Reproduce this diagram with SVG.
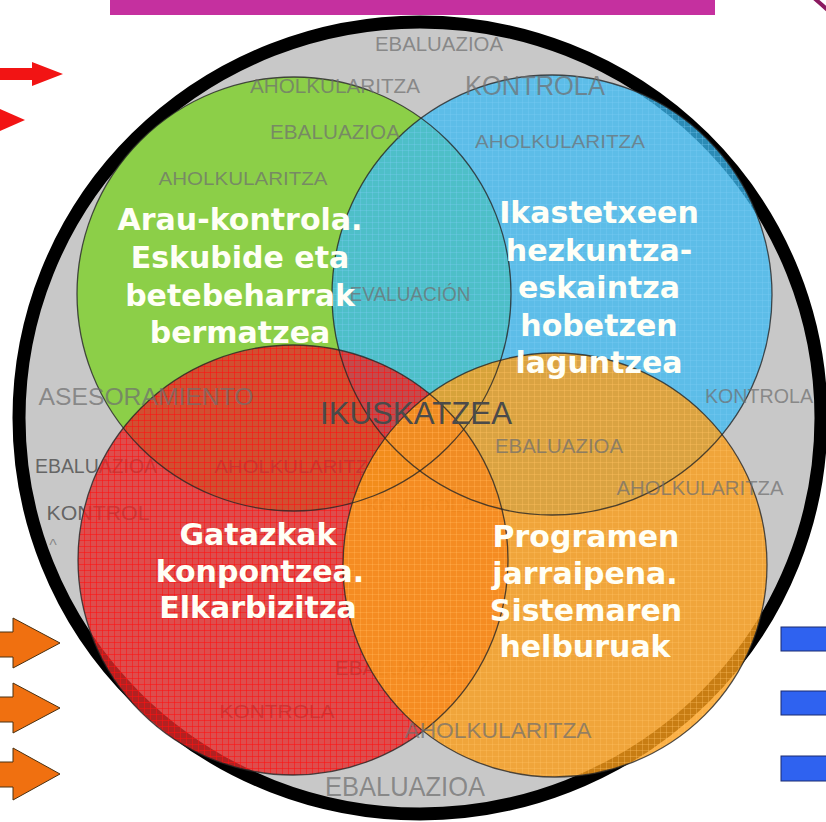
<svg xmlns="http://www.w3.org/2000/svg" width="826" height="822" viewBox="0 0 826 822">
<style>
.lb{font-family:"Liberation Sans",Arial,sans-serif;fill:#6f6f6f;fill-opacity:.72;text-anchor:middle}
.lu{font-family:"Liberation Sans",Arial,sans-serif;fill:#4a4a4a;fill-opacity:.8;text-anchor:middle}
.wt{font-family:"DejaVu Sans",Verdana,sans-serif;font-weight:bold;font-size:30px;fill:#fffff6;text-anchor:middle}
.ol{fill:none;stroke:#262626;stroke-width:1.3;stroke-opacity:.8}
.oarr{fill:#f07010;stroke:#4a3010;stroke-width:1}
.brect{fill:#2f62f0;stroke:#1a2a70;stroke-width:1}
.gp{fill:none}
</style>
<defs>
<pattern id="gridR" width="6" height="6" patternUnits="userSpaceOnUse"><path class="gp" d="M0 0.5H6M0.5 0V6" stroke="#ff1010" stroke-opacity=".55" stroke-width="1"/></pattern>
<pattern id="gridO" width="6" height="6" patternUnits="userSpaceOnUse"><path class="gp" d="M0 0.5H6M0.5 0V6" stroke="#ffc060" stroke-opacity=".35" stroke-width="1"/></pattern>
<pattern id="gridB" width="6" height="6" patternUnits="userSpaceOnUse"><path class="gp" d="M0 0.5H6M0.5 0V6" stroke="#80d0f8" stroke-opacity=".3" stroke-width="1"/></pattern>
</defs>
<rect width="826" height="822" fill="#ffffff"/>

<g id="header">
<rect x="110" y="-2" width="605" height="17" fill="#c5309f"/>
<path d="M814 -2 Q 821 4 830 12" fill="none" stroke="#8c1a60" stroke-width="4"/>
</g>

<g id="arrows-left">
<polygon points="-2,68 32,68 32,62 63,74 32,86 32,80 -2,80" fill="#f21414"/>
<polygon points="-2,108 25,120 -2,132" fill="#f21414"/>
<polygon class="oarr" points="-2,632 13,632 13,618 60,643 13,668 13,657 -2,657"/>
<polygon class="oarr" points="-2,697 13,697 13,683 60,708 13,733 13,722 -2,722"/>
<polygon class="oarr" points="-2,762 13,762 13,748 60,774 13,800 13,787 -2,787"/>
</g>

<g id="bars-right">
<rect class="brect" x="781" y="627" width="50" height="24"/>
<rect class="brect" x="781" y="691" width="50" height="24"/>
<rect class="brect" x="781" y="756" width="50" height="25"/>
</g>

<g id="ikuskatzea">
<ellipse cx="420" cy="418" rx="401" ry="396" fill="#c8c8c8" stroke="#000000" stroke-width="13"/>
</g>

<g id="green">
<circle cx="294" cy="294" r="217" fill="#8ccf48"/>
</g>
<g id="blue">
<circle cx="552" cy="295" r="220" fill="#3ab9f3" fill-opacity=".75"/>
<circle cx="552" cy="295" r="220" fill="url(#gridB)"/>
</g>

<g id="labels-under">
<text class="lu" x="96" y="473" font-size="20" textLength="122" lengthAdjust="spacingAndGlyphs">EBALUAZIOA</text>
<text class="lu" x="298" y="473" font-size="18" textLength="167" lengthAdjust="spacingAndGlyphs">AHOLKULARITZA</text>
<text class="lu" x="98" y="520" font-size="21" textLength="103" lengthAdjust="spacingAndGlyphs">KONTROL</text>
<text class="lu" x="420" y="512" font-size="19" textLength="108" lengthAdjust="spacingAndGlyphs">KONTROLA</text>
<text class="lu" x="400" y="675" font-size="20" textLength="130" lengthAdjust="spacingAndGlyphs">EBALUAZIOA</text>
<text class="lu" x="277" y="718" font-size="19" textLength="115" lengthAdjust="spacingAndGlyphs">KONTROLA</text>
</g>

<g id="red">
<circle cx="293" cy="560" r="215" fill="#e42a2a" fill-opacity=".78"/>
<circle cx="293" cy="560" r="215" fill="url(#gridR)"/>
</g>
<g id="orange">
<circle cx="555" cy="565" r="212" fill="#fa9c18" fill-opacity=".8"/>
<circle cx="555" cy="565" r="212" fill="url(#gridO)"/>
</g>

<g id="outlines">
<circle class="ol" cx="294" cy="294" r="217"/>
<circle class="ol" cx="552" cy="295" r="220"/>
<circle class="ol" cx="293" cy="560" r="215"/>
<circle class="ol" cx="555" cy="565" r="212"/>
</g>

<g id="labels">
<text class="lb" x="439" y="51" font-size="21" textLength="128" lengthAdjust="spacingAndGlyphs">EBALUAZIOA</text>
<text class="lb" x="335" y="93" font-size="21" textLength="170" lengthAdjust="spacingAndGlyphs">AHOLKULARITZA</text>
<text class="lb" x="535" y="95" font-size="27" textLength="140" lengthAdjust="spacingAndGlyphs">KONTROLA</text>
<text class="lb" x="335" y="139" font-size="21" textLength="130" lengthAdjust="spacingAndGlyphs">EBALUAZIOA</text>
<text class="lb" x="560" y="148" font-size="19" textLength="170" lengthAdjust="spacingAndGlyphs">AHOLKULARITZA</text>
<text class="lb" x="243" y="185" font-size="18" textLength="169" lengthAdjust="spacingAndGlyphs">AHOLKULARITZA</text>
<text class="lb" x="410" y="301" font-size="20" textLength="121" lengthAdjust="spacingAndGlyphs">EVALUACIÓN</text>
<text class="lb" x="146" y="405" font-size="24" textLength="215" lengthAdjust="spacingAndGlyphs">ASESORAMIENTO</text>
<text class="lb" x="759" y="403" font-size="21" textLength="108" lengthAdjust="spacingAndGlyphs">KONTROLA</text>
<text class="lb" x="559" y="453" font-size="21" textLength="128" lengthAdjust="spacingAndGlyphs">EBALUAZIOA</text>
<text class="lb" x="700" y="495" font-size="21" textLength="167" lengthAdjust="spacingAndGlyphs">AHOLKULARITZA</text>
<text class="lb" x="53" y="551" font-size="16">^</text>
<text class="lb" x="498" y="738" font-size="22" textLength="187" lengthAdjust="spacingAndGlyphs">AHOLKULARITZA</text>
<text class="lb" x="405" y="796" font-size="28" textLength="160" lengthAdjust="spacingAndGlyphs">EBALUAZIOA</text>
<text x="416" y="424" font-family="Liberation Sans, Arial, sans-serif" font-size="32" fill="#4a4a4a" text-anchor="middle" textLength="192" lengthAdjust="spacingAndGlyphs">IKUSKATZEA</text>
</g>

<g id="text-green">
<text class="wt" x="240" y="230">Arau-kontrola.</text>
<text class="wt" x="240" y="268">Eskubide eta</text>
<text class="wt" x="240" y="306">betebeharrak</text>
<text class="wt" x="240" y="343">bermatzea</text>
</g>
<g id="text-blue">
<text class="wt" x="599" y="223">Ikastetxeen</text>
<text class="wt" x="599" y="261">hezkuntza-</text>
<text class="wt" x="599" y="298">eskaintza</text>
<text class="wt" x="599" y="336">hobetzen</text>
<text class="wt" x="599" y="373">laguntzea</text>
</g>
<g id="text-red">
<text class="wt" x="258" y="545">Gatazkak</text>
<text class="wt" x="260" y="582">konpontzea.</text>
<text class="wt" x="258" y="618">Elkarbizitza</text>
</g>
<g id="text-orange">
<text class="wt" x="586" y="547">Programen</text>
<text class="wt" x="585" y="584">jarraipena.</text>
<text class="wt" x="586" y="621">Sistemaren</text>
<text class="wt" x="585" y="657">helburuak</text>
</g>
</svg>
